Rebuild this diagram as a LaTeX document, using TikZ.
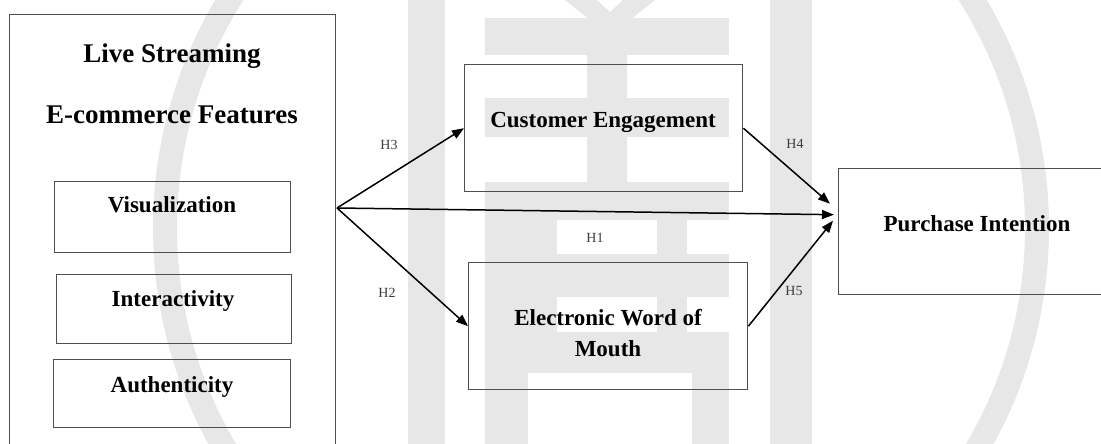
\documentclass[tikz,border=0pt]{standalone}
\usepackage{fontspec}
\setmainfont{Liberation Serif}
\usetikzlibrary{arrows.meta,calc}
\definecolor{wm}{RGB}{231,231,231}
\definecolor{edge}{RGB}{78,78,78}
\definecolor{hyptext}{RGB}{60,60,60}
\begin{document}
\begin{tikzpicture}[x=1pt,y=-1pt,
  box/.style={draw=edge,line width=1.4pt,inner sep=0pt,anchor=north west},
  heading/.style={font=\fontsize{27}{30}\selectfont\bfseries,anchor=base,inner sep=0pt},
  boxtext/.style={font=\fontsize{23}{27}\selectfont\bfseries,anchor=base,inner sep=0pt},
  hyp/.style={font=\fontsize{14}{16}\selectfont,text=hyptext,anchor=base,inner sep=0pt},
  link/.style={line width=1.5pt,-{Triangle[length=12pt,width=9pt]}}]
\useasboundingbox (0,0) rectangle (1101,444);
\clip (0,0) rectangle (1101,444);

% faint seal in the background
\begin{scope}
  \draw[wm,line width=24pt] (601,228) circle[radius=436];
  \fill[wm] (408,0) rectangle (445,444);
  \fill[wm] (770,0) rectangle (812,444);
  \fill[wm] (565,0) -- (597,0) -- (610,12) -- (623,0) -- (655,0) -- (630,20) -- (590,20) -- cycle;
  \fill[wm] (485,18) rectangle (729,55);
  \fill[wm] (587,55) rectangle (627,98);
  \fill[wm] (485,98) rectangle (729,137);
  \fill[wm] (587,137) rectangle (627,182);
  \fill[wm] (485,182) rectangle (729,220);
  \fill[wm] (485,220) rectangle (557,254);
  \fill[wm] (657,220) rectangle (687,254);
  \fill[wm] (485,254) rectangle (729,297);
  \fill[wm] (485,297) rectangle (557,332);
  \fill[wm] (657,297) rectangle (687,332);
  \fill[wm] (485,332) rectangle (729,373);
  \fill[wm] (485,373) rectangle (528,444);
  \fill[wm] (692,373) rectangle (729,444);
\end{scope}

% boxes
\node[box,minimum width=326pt,minimum height=440pt] (lsef) at (9,14) {};
\node[box,minimum width=236pt,minimum height=71pt] (vis) at (54,181) {};
\node[box,minimum width=235pt,minimum height=69pt] (int) at (56,274) {};
\node[box,minimum width=237pt,minimum height=68pt] (aut) at (53,359) {};
\node[box,minimum width=278pt,minimum height=127pt] (ce) at (464,64) {};
\node[box,minimum width=279pt,minimum height=127pt] (ew) at (468,262) {};
\node[box,minimum width=290pt,minimum height=126pt] (pi) at (838,168) {};

% box texts
\node[heading] (t-ls) at (172,63) {Live Streaming};
\node[heading] (t-ec) at (172,123) {E-commerce Features};
\node[boxtext] (t-vis) at (172,212) {Visualization};
\node[boxtext] (t-int) at (173,306) {Interactivity};
\node[boxtext] (t-aut) at (172,392) {Authenticity};
\node[boxtext] (t-ce) at (603,128) {Customer Engagement};
\node[boxtext] (t-ew1) at (608,325) {Electronic Word of};
\node[boxtext] (t-ew2) at (608,356) {Mouth};
\node[boxtext] (t-pi) at (977,231) {Purchase Intention};

% connector ends
\coordinate (src) at (337,208);
\coordinate (in4) at ($(pi.west)+(-8,-28)$);
\coordinate (in1) at ($(pi.west)+(-4,-17)$);
\coordinate (in5) at ($(pi.west)+(-5,-11)$);

% hypotheses
\draw[link] (src) -- (ce.west);
\draw[link] (src) -- (ew.west);
\draw[link] (src) -- (in1);
\draw[link] (ce.east) -- (in4);
\draw[link] (ew.east) -- (in5);

\node[hyp] (h3) at (389,149) {H3};
\node[hyp] (h2) at (387,297) {H2};
\node[hyp] (h1) at (595,242) {H1};
\node[hyp] (h4) at (795,148) {H4};
\node[hyp] (h5) at (794,295) {H5};
\end{tikzpicture}
\end{document}
